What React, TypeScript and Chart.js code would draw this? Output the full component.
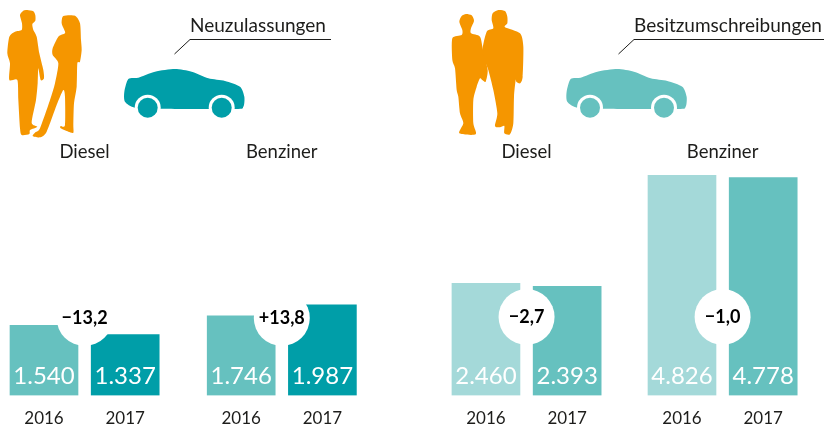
import React, { useEffect, useRef } from "react";
import { Chart, registerables } from "chart.js";

Chart.register(...registerables);

const yearLabels = ["2016", "2017", "2016", "2017", "2016", "2017", "2016", "2017"];
const barSlots = [0, 70, 170, 240, 381, 451, 550, 620];
const registrations = [1540, 1337, 1746, 1987, 2460, 2393, 4826, 4778];
const changeLabels = ["\u221213,2", "+13,8", "\u22122,7", "\u22121,0"];
const fuelLabels = ["Diesel", "Benziner", "Diesel", "Benziner"];
const groupTitles = ["Neuzulassungen", "Besitzumschreibungen"];

const TEAL = "#009EA8";
const MID = "#66C1BF";
const PALE = "#A4D9D9";
const ORANGE = "#F59600";
const INK = "#1d1d1b";
const barColors = [MID, TEAL, MID, TEAL, PALE, MID, PALE, MID];
const FONT = "Lato, sans-serif";

const man1 = [[82,30],[100,34],[106,46],[106,62],[97,72],[100,90],[110,110],[118,160],[130,210],[132,235],[122,240],[115,205],[113,250],[108,300],[95,368],[112,380],[90,390],[88,402],[65,405],[60,385],[55,300],[52,240],[28,240],[30,190],[22,160],[28,110],[45,95],[65,90],[66,70],[60,45],[70,32]];
const woman1 = [[190,48],[225,47],[240,70],[243,120],[245,150],[240,185],[232,190],[230,260],[222,310],[220,375],[220,398],[205,395],[182,385],[182,378],[195,375],[195,290],[190,270],[172,310],[140,395],[120,412],[98,408],[105,398],[120,385],[150,300],[165,250],[175,190],[158,165],[158,145],[175,110],[195,100],[192,88],[185,70]];
const woman2 = [[63,42],[80,46],[87,62],[78,85],[78,100],[105,110],[114,150],[128,210],[122,245],[112,240],[105,235],[95,260],[85,300],[85,370],[92,403],[43,400],[55,370],[45,340],[40,290],[35,270],[30,205],[22,180],[22,115],[50,105],[52,90],[43,65],[50,48]];
const man2 = [[160,30],[180,33],[187,50],[187,70],[180,82],[225,100],[235,140],[233,230],[225,250],[214,245],[212,240],[207,290],[205,370],[195,403],[178,400],[178,378],[165,382],[150,378],[157,340],[145,270],[130,210],[118,180],[112,150],[125,95],[145,85],[140,60],[143,40]];
const carBody = [[180,42],[230,50],[280,70],[330,78],[375,95],[388,125],[385,155],[360,162],[135,161],[60,158],[30,140],[28,110],[40,72],[70,68],[120,50]];

function smoothShape(ctx: CanvasRenderingContext2D, pts: number[][], ox: number, oy: number, color: string) {
  const p = pts.map(([x, y]) => [ox + x / 3, oy + y / 3]);
  const n = p.length;
  ctx.fillStyle = color;
  ctx.beginPath();
  ctx.moveTo(p[0][0], p[0][1]);
  for (let i = 0; i < n; i++) {
    const a = p[(i - 1 + n) % n];
    const b = p[i];
    const c = p[(i + 1) % n];
    const d = p[(i + 2) % n];
    const k = 0.12;
    ctx.bezierCurveTo(
      b[0] + (c[0] - a[0]) * k,
      b[1] + (c[1] - a[1]) * k,
      c[0] - (d[0] - b[0]) * k,
      c[1] - (d[1] - b[1]) * k,
      c[0],
      c[1]
    );
  }
  ctx.closePath();
  ctx.fill();
}

function drawCar(ctx: CanvasRenderingContext2D, ox: number, color: string) {
  smoothShape(ctx, carBody, ox, 55, color);
  [32.7, 106.7].forEach((dx) => {
    ctx.fillStyle = "#fff";
    ctx.beginPath();
    ctx.arc(ox + dx, 107.7, 13, 0, Math.PI * 2);
    ctx.fill();
    ctx.fillStyle = color;
    ctx.beginPath();
    ctx.arc(ox + dx, 107.7, 10, 0, Math.PI * 2);
    ctx.fill();
  });
}

function text(ctx: CanvasRenderingContext2D, s: string, x: number, y: number, font: string, color: string, align: CanvasTextAlign = "center") {
  ctx.font = font;
  ctx.fillStyle = color;
  ctx.textAlign = align;
  ctx.textBaseline = "middle";
  ctx.fillText(s, x, y);
}

const formatValue = (v: number) => String(v).replace(/(\d)(\d{3})$/, "$1.$2");

const overlay = {
  id: "overlay",
  afterDatasetsDraw(chart: any) {
    const { ctx } = chart;
    const bars = chart.getDatasetMeta(0).data;
    ctx.save();
    bars.forEach((bar: any, i: number) => {
      text(ctx, formatValue(registrations[i]), bar.x, 376.5, `400 24px ${FONT}`, "#fff");
    });
    changeLabels.forEach((label, i) => {
      const cx = (bars[i * 2].x + bars[i * 2 + 1].x) / 2;
      const cy = i < 2 ? 318 : 317;
      ctx.fillStyle = "#fff";
      ctx.beginPath();
      ctx.arc(cx, cy, 28, 0, Math.PI * 2);
      ctx.fill();
      text(ctx, label, cx, cy, `700 18px ${FONT}`, "#000");
      text(ctx, fuelLabels[i], cx, 152, `400 18.5px ${FONT}`, INK);
    });

    smoothShape(ctx, man1, 0, 0, ORANGE);
    smoothShape(ctx, woman1, 0, 0, ORANGE);
    smoothShape(ctx, woman2, 445, 0, ORANGE);
    smoothShape(ctx, man2, 445, 0, ORANGE);
    drawCar(ctx, 115, TEAL);
    drawCar(ctx, 557.3, MID);

    ctx.strokeStyle = INK;
    ctx.lineWidth = 1;
    ctx.beginPath();
    ctx.moveTo(174.5, 54);
    ctx.lineTo(190, 39.5);
    ctx.lineTo(331, 39.5);
    ctx.moveTo(618.5, 54);
    ctx.lineTo(634, 39.5);
    ctx.lineTo(824, 39.5);
    ctx.stroke();
    text(ctx, groupTitles[0], 190, 26, `400 19px ${FONT}`, INK, "left");
    text(ctx, groupTitles[1], 634, 26, `400 19px ${FONT}`, INK, "left");
    ctx.restore();
  },
};

export default function App() {
  const ref = useRef<HTMLCanvasElement>(null);
  useEffect(() => {
    const chart = new Chart(ref.current!, {
      type: "bar",
      data: {
        datasets: [
          {
            data: barSlots.map((x, i) => ({ x, y: registrations[i] })),
            backgroundColor: barColors,
            barThickness: 68,
            borderWidth: 0,
          },
        ],
      },
      options: {
        animation: false,
        responsive: false,
        devicePixelRatio: 1,
        layout: { padding: { top: 167.5, left: 0, right: 0, bottom: 0 } },
        plugins: { legend: { display: false }, tooltip: { enabled: false } },
        scales: {
          x: {
            type: "linear",
            offset: false,
            min: -44 / 1.16,
            max: (824 - 44) / 1.16,
            grid: { display: false },
            border: { display: false },
            afterBuildTicks: (scale: any) => {
              scale.ticks = barSlots.map((value) => ({ value }));
            },
            afterFit: (scale: any) => {
              scale.height = 29.5;
            },
            ticks: {
              autoSkip: false,
              maxRotation: 0,
              padding: 5,
              color: INK,
              font: { family: "Lato, sans-serif", size: 17 },
              callback: (v: any) => yearLabels[barSlots.indexOf(v)] ?? "",
            },
          },
          y: {
            display: false,
            min: 0,
            max: 5000,
          },
        },
      },
      plugins: [overlay],
    } as any);
    return () => chart.destroy();
  }, []);
  return (
    <canvas
      ref={ref}
      width={824}
      height={425}
      style={{ position: "absolute", left: 0, top: 0, display: "block", width: 824, height: 425 }}
    />
  );
}
